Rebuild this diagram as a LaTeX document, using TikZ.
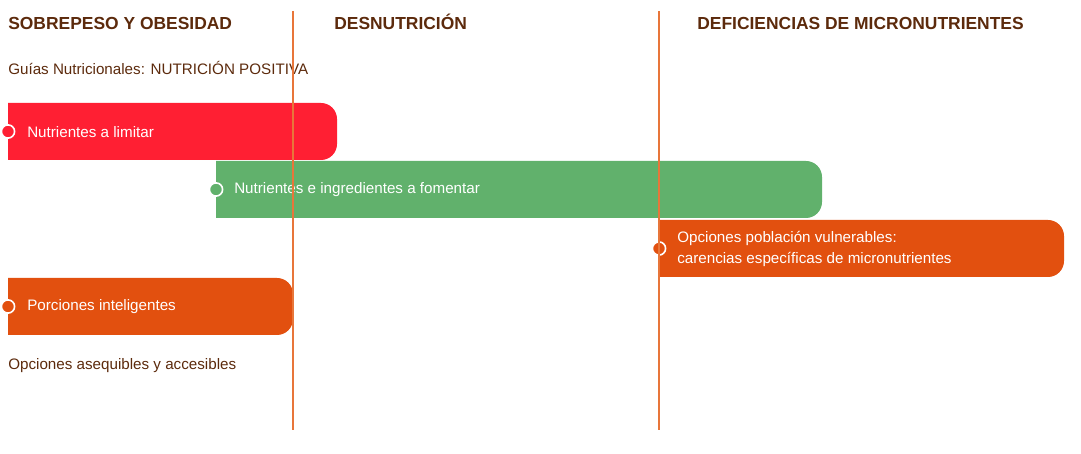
\documentclass[tikz,border=0pt]{standalone}
\usepackage{fontspec}
\setmainfont{Liberation Sans}
\usepackage{tikz}
\definecolor{rojo}{RGB}{255,31,51}
\definecolor{verde}{RGB}{97,177,108}
\definecolor{naranja}{RGB}{226,80,15}
\definecolor{marron}{RGB}{92,42,12}
\definecolor{linea}{RGB}{232,118,58}
\tikzset{
  titulo/.style = {anchor=base west, inner sep=0pt, text=marron, font=\fontsize{12.4}{14}\selectfont\bfseries},
  texto/.style = {anchor=west, inner sep=0pt, text=marron, font=\fontsize{10.8}{13}\selectfont},
  etiqueta/.style = {anchor=west, inner sep=0pt, text=white, align=left, font=\fontsize{10.8}{15.6}\selectfont},
  punto/.style = {circle, draw=white, line width=0.04cm, minimum size=0.33cm, inner sep=0pt},
  divisor/.style = {linea, line width=0.03cm}
}

\begin{document}
\begin{tikzpicture}[x = 0.025cm, y = 0.025cm]
        \useasboundingbox (0, 0) rectangle (1081, 454);

        % titulos
        \node [titulo] (sobrepeso) at (8, 424) {SOBREPESO Y OBESIDAD};
        \node [titulo] (desnutricion) at (334, 424) {DESNUTRICIÓN};
        \node [titulo] (deficiencias) at (697, 424) {DEFICIENCIAS DE MICRONUTRIENTES};
        \node [texto] (guias) at (8, 386) {Guías Nutricionales: NUTRICIÓN POSITIVA};

        % barras
        \fill [rojo] (8, 294) -- (8, 351) -- (321, 351) arc [start angle = 90, end angle = 0, radius = 16]
          -- (337, 310) arc [start angle = 0, end angle = -90, radius = 16] -- cycle;
        \fill [verde] (216, 236) -- (216, 293) -- (806, 293) arc [start angle = 90, end angle = 0, radius = 16]
          -- (822, 252) arc [start angle = 0, end angle = -90, radius = 16] -- cycle;
        \fill [naranja] (659, 177) -- (659, 234) -- (1048, 234) arc [start angle = 90, end angle = 0, radius = 16]
          -- (1064, 193) arc [start angle = 0, end angle = -90, radius = 16] -- cycle;
        \fill [naranja] (8, 119) -- (8, 176) -- (277, 176) arc [start angle = 90, end angle = 0, radius = 16]
          -- (293, 135) arc [start angle = 0, end angle = -90, radius = 16] -- cycle;

        \node [punto, fill = rojo] (puntolimitar) at (8, 322.5) {};
        \node [etiqueta] (limitar) at (27, 322) {Nutrientes a limitar};
        \node [punto, fill = verde] (puntofomentar) at (216, 264.5) {};
        \node [etiqueta] (fomentar) at (234, 264) {Nutrientes e ingredientes a fomentar};
        \node [punto, fill = naranja] (puntovulnerables) at (659, 205.5) {};
        \node [etiqueta] (vulnerables) at (677, 205) {Opciones población vulnerables:\\carencias específicas de micronutrientes};
        \node [punto, fill = naranja] (puntoporciones) at (8, 147.5) {};
        \node [etiqueta] (porciones) at (27, 147) {Porciones inteligentes};

        \node [texto] (asequibles) at (8, 88) {Opciones asequibles y accesibles};

        % divisores
        \draw [divisor] (293, 443) -- (293, 24);
        \draw [divisor] (659, 443) -- (659, 24);
      \end{tikzpicture}
\end{document}
